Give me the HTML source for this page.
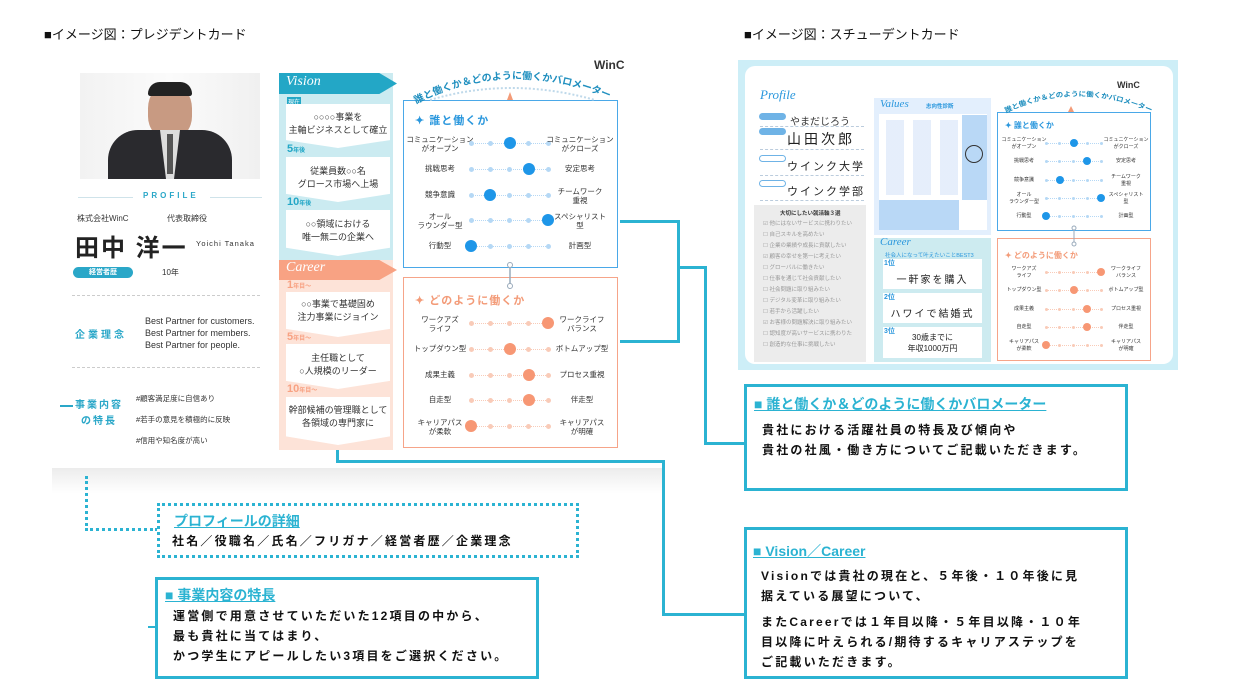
<!DOCTYPE html>
<html><head><meta charset="utf-8">
<style>
*{margin:0;padding:0;box-sizing:border-box}
body{width:1260px;height:700px;background:#fff;position:relative;overflow:hidden;font-family:"Liberation Sans","Noto Sans CJK JP",sans-serif;color:#222}
.a{position:absolute}
.t{font-size:13px;color:#111}
.ln{position:absolute;background:#2bb3d2}
.cb{position:absolute;border:3px solid #2bb3d2;background:#fff}
.ch{font-weight:bold;color:#2bb3d2;text-decoration:underline;font-size:14px}
.cbody{font-weight:bold;font-size:12px;letter-spacing:2.2px;line-height:20px;color:#111}
.chev{position:absolute;background:#fff;clip-path:polygon(0 0,100% 0,100% 82%,50% 100%,0 82%);text-align:center;font-size:9px;line-height:13px;color:#333;white-space:nowrap}
.lbl{position:absolute;font-size:7.5px;line-height:9px;text-align:center;color:#333}
.d{position:absolute;border-radius:50%}
</style></head><body>

<div class="a t" style="left:44px;top:24px;">■イメージ図：プレジデントカード</div>
<div class="a t" style="left:744px;top:24px;">■イメージ図：スチューデントカード</div>

<div class="a" style="left:52px;top:468px;width:610px;height:26px;background:linear-gradient(#ececec,#fafafa 70%,#fff)"></div>

<!-- photo -->
<div class="a" style="left:80px;top:73px;width:180px;height:106px;background:linear-gradient(90deg,#f2f2f2,#fbfbfb 50%,#f0f0f0)"></div>
<div class="a" style="left:148px;top:84px;width:44px;height:54px;background:#c89a82;border-radius:45% 45% 40% 40%"></div>
<div class="a" style="left:148px;top:82px;width:44px;height:14px;background:#222;border-radius:20px 20px 4px 4px"></div>
<div class="a" style="left:108px;top:130px;width:124px;height:49px;background:#2a2a2e;border-radius:30px 30px 0 0"></div>
<div class="a" style="left:160px;top:130px;width:20px;height:49px;background:#ddd;clip-path:polygon(0 0,100% 0,70% 100%,30% 100%)"></div>
<div class="a" style="left:167px;top:134px;width:6px;height:40px;background:#555"></div>

<div class="a" style="left:78px;top:197px;width:55px;height:1px;background:#cfe3ea"></div>
<div class="a" style="left:210px;top:197px;width:52px;height:1px;background:#cfe3ea"></div>
<div class="a" style="left:143px;top:191px;font-size:8px;letter-spacing:3px;color:#2aa7c8;font-weight:bold">PROFILE</div>
<div class="a" style="left:77px;top:213px;font-size:8px;color:#333">株式会社WinC</div>
<div class="a" style="left:167px;top:213px;font-size:8px;color:#333">代表取締役</div>
<div class="a" style="left:75px;top:228px;font-size:24px;font-weight:bold;color:#222;letter-spacing:2px">田中 洋一</div>
<div class="a" style="left:196px;top:239px;font-size:7.5px;color:#333;letter-spacing:1px">Yoichi Tanaka</div>
<div class="a" style="left:73px;top:267px;width:60px;height:11px;background:#2aa7c8;border-radius:6px;color:#fff;font-size:7px;text-align:center;line-height:11px;font-weight:bold">経営者歴</div>
<div class="a" style="left:162px;top:267px;font-size:8px;color:#333">10年</div>
<div class="a" style="left:72px;top:295px;width:188px;border-top:1px dashed #ccc"></div>
<div class="a" style="left:75px;top:326px;font-size:10px;color:#2aa7c8;font-weight:bold;letter-spacing:3px">企業理念</div>
<div class="a" style="left:145px;top:315px;font-size:9px;line-height:12px;color:#333">Best Partner for customers.<br>Best Partner for members.<br>Best Partner for people.</div>
<div class="a" style="left:72px;top:367px;width:188px;border-top:1px dashed #ccc"></div>
<div class="a" style="left:60px;top:405px;width:13px;height:2px;background:#2aa7c8"></div>
<div class="a" style="left:75px;top:398px;font-size:10px;line-height:16px;color:#2aa7c8;font-weight:bold;letter-spacing:2px;text-align:center">事業内容<br>の特長</div>
<div class="a" style="left:136px;top:388px;font-size:7.5px;line-height:21px;color:#333">#顧客満足度に自信あり<br>#若手の意見を積極的に反映<br>#信用や知名度が高い</div>

<!-- Vision column -->
<div class="a" style="left:279px;top:73px;width:114px;height:187px;background:#cbebf1"></div>
<div class="a" style="left:279px;top:73px;width:118px;height:21px;background:#23a7c6;clip-path:polygon(0 0,85% 0,100% 50%,85% 100%,0 100%)"></div>
<div class="a" style="left:286px;top:74px;color:#fff;font-style:italic;font-size:14px;font-family:'Liberation Serif',serif">Vision</div>
<div class="a" style="left:287px;top:97px;font-size:6px;background:#23a7c6;color:#fff;padding:0 1px">現在</div>
<div class="chev" style="left:286px;top:104px;width:104px;height:44px;padding-top:7px">○○○○事業を<br>主軸ビジネスとして確立</div>
<div class="a" style="left:287px;top:143px;font-size:11px;font-weight:bold;color:#23a7c6">5<span style="font-size:6px">年後</span></div>
<div class="chev" style="left:286px;top:157px;width:104px;height:45px;padding-top:8px">従業員数○○名<br>グロース市場へ上場</div>
<div class="a" style="left:287px;top:196px;font-size:11px;font-weight:bold;color:#23a7c6">10<span style="font-size:6px">年後</span></div>
<div class="chev" style="left:286px;top:210px;width:104px;height:46px;padding-top:8px">○○領域における<br>唯一無二の企業へ</div>

<!-- Career column -->
<div class="a" style="left:279px;top:260px;width:114px;height:190px;background:#fde3d8"></div>
<div class="a" style="left:279px;top:260px;width:118px;height:20px;background:#f8a283;clip-path:polygon(0 0,85% 0,100% 50%,85% 100%,0 100%)"></div>
<div class="a" style="left:286px;top:260px;color:#fff;font-style:italic;font-size:14px;font-family:'Liberation Serif',serif">Career</div>
<div class="a" style="left:287px;top:279px;font-size:11px;font-weight:bold;color:#f8a283">1<span style="font-size:6px">年目〜</span></div>
<div class="chev" style="left:286px;top:292px;width:104px;height:45px;padding-top:6px">○○事業で基礎固め<br>注力事業にジョイン</div>
<div class="a" style="left:287px;top:331px;font-size:11px;font-weight:bold;color:#f8a283">5<span style="font-size:6px">年目〜</span></div>
<div class="chev" style="left:286px;top:344px;width:104px;height:45px;padding-top:8px">主任職として<br>○人規模のリーダー</div>
<div class="a" style="left:287px;top:383px;font-size:11px;font-weight:bold;color:#f8a283">10<span style="font-size:6px">年目〜</span></div>
<div class="chev" style="left:286px;top:397px;width:104px;height:48px;padding-top:7px">幹部候補の管理職として<br>各領域の専門家に</div>

<!-- blue box -->
<div class="a" style="left:403px;top:100px;width:215px;height:168px;border:1.5px solid #4aa8e8;background:#fff"></div>
<div class="a" style="left:415px;top:112px;font-size:11px;font-weight:bold;color:#2a97dd;letter-spacing:1px">✦ 誰と働くか</div>
<div class="a" style="left:403px;top:277px;width:215px;height:171px;border:1.5px solid #f6a489;background:#fff"></div>
<div class="a" style="left:415px;top:292px;font-size:11px;font-weight:bold;color:#f39b78;letter-spacing:1px">✦ どのように働くか</div>

<!-- student card -->
<div class="a" style="left:738px;top:60px;width:440px;height:310px;background:#cdeef7"></div>
<div class="a" style="left:745px;top:66px;width:428px;height:298px;background:#fff;border-radius:10px"></div>
<div class="a" style="left:760px;top:87px;font-size:13px;font-style:italic;color:#2a97dd;font-family:'Liberation Serif',serif">Profile</div>
<div class="a" style="left:759px;top:113px;width:27px;height:7px;background:#6fb3e6;border-radius:4px"></div>
<div class="a" style="left:790px;top:113px;font-size:10px;color:#333">やまだじろう</div>
<div class="a" style="left:759px;top:128px;width:27px;height:7px;background:#6fb3e6;border-radius:4px"></div>
<div class="a" style="left:787px;top:129px;font-size:14px;color:#222;letter-spacing:3px">山田次郎</div>
<div class="a" style="left:759px;top:155px;width:27px;height:7px;border:1px solid #6fb3e6;border-radius:4px"></div>
<div class="a" style="left:787px;top:158px;font-size:11px;color:#222;letter-spacing:2px">ウインク大学</div>
<div class="a" style="left:759px;top:180px;width:27px;height:7px;border:1px solid #6fb3e6;border-radius:4px"></div>
<div class="a" style="left:787px;top:183px;font-size:11px;color:#222;letter-spacing:2px">ウインク学部</div>
<div class="a" style="left:760px;top:126px;width:104px;border-top:1px dashed #bcd"></div>
<div class="a" style="left:760px;top:149px;width:104px;border-top:1px dashed #bcd"></div>
<div class="a" style="left:760px;top:175px;width:104px;border-top:1px dashed #bcd"></div>
<div class="a" style="left:760px;top:200px;width:104px;border-top:1px dashed #bcd"></div>
<div class="a" style="left:754px;top:205px;width:112px;height:157px;background:#ececec"></div>
<div class="a" style="left:780px;top:209px;font-size:5.5px;font-weight:bold;color:#333">大切にしたい就活軸３選</div>
<div class="a" style="left:763px;top:219px;font-size:5.5px;line-height:11px;color:#999">☑ 他にはないサービスに携わりたい<br>☐ 自己スキルを高めたい<br>☐ 企業の業績や成長に貢献したい<br>☑ 顧客の幸せを第一に考えたい<br>☐ グローバルに働きたい<br>☐ 仕事を通じて社会貢献したい<br>☐ 社会問題に取り組みたい<br>☐ デジタル変革に取り組みたい<br>☐ 若手から活躍したい<br>☑ お客様の問題解決に取り組みたい<br>☐ 認知度が高いサービスに携わりた<br>☐ 創造的な仕事に挑戦したい</div>
<div class="a" style="left:874px;top:98px;width:117px;height:137px;background:#e3effd"></div>
<div class="a" style="left:880px;top:98px;font-size:11px;font-style:italic;color:#2a97dd;font-family:'Liberation Serif',serif">Values</div>
<div class="a" style="left:926px;top:102px;font-size:5.5px;font-weight:bold;color:#2a97dd">志向性診断</div>
<div class="a" style="left:879px;top:114px;width:108px;height:116px;background:#fff"></div>
<div class="a" style="left:962px;top:115px;width:25px;height:85px;background:#b9d8f6"></div>
<div class="a" style="left:879px;top:200px;width:80px;height:30px;background:#b9d8f6"></div>
<div class="a" style="left:965px;top:145px;width:18px;height:18px;border:1.5px solid #333;border-radius:50%"></div>
<div class="a" style="left:882px;top:120px;width:78px;height:75px;background:repeating-linear-gradient(90deg,#fff 0 4px,#dfeafa 4px 22px,#fff 22px 27px);opacity:.8"></div>
<div class="a" style="left:874px;top:238px;width:117px;height:124px;background:#cdebf0"></div>
<div class="a" style="left:880px;top:236px;font-size:11px;font-style:italic;color:#2a97dd;font-family:'Liberation Serif',serif">Career</div>
<div class="a" style="left:885px;top:251px;font-size:5.5px;color:#2a97dd">社会人になって叶えたいことBEST3</div>
<div class="a" style="left:883px;top:259px;width:99px;height:30px;background:#fff;font-size:10px;text-align:center;padding-top:12px;letter-spacing:2px">一軒家を購入</div>
<div class="a" style="left:883px;top:293px;width:99px;height:30px;background:#fff;font-size:10px;text-align:center;padding-top:12px;letter-spacing:2px">ハワイで結婚式</div>
<div class="a" style="left:883px;top:327px;width:99px;height:31px;background:#fff;font-size:8px;line-height:11px;text-align:center;padding-top:5px">30歳までに<br>年収1000万円</div>
<div class="a" style="left:884px;top:258px;font-size:7px;font-weight:bold;color:#2a97dd">1位</div>
<div class="a" style="left:884px;top:292px;font-size:7px;font-weight:bold;color:#2a97dd">2位</div>
<div class="a" style="left:884px;top:326px;font-size:7px;font-weight:bold;color:#2a97dd">3位</div>
<div class="a" style="left:997px;top:112px;width:154px;height:119px;border:1.2px solid #4aa8e8"></div>
<div class="a" style="left:1005px;top:120px;font-size:8px;font-weight:bold;color:#2a97dd">✦ 誰と働くか</div>
<div class="a" style="left:997px;top:238px;width:154px;height:123px;border:1.2px solid #f6a489"></div>
<div class="a" style="left:1005px;top:250px;font-size:8px;font-weight:bold;color:#f39b78">✦ どのように働くか</div>

<!-- titles svg -->
<svg class="a" style="left:0;top:0" width="1260" height="700">
<defs><path id="arc1" d="M416 104 Q510 56 612 100"/><path id="arc2" d="M1006 113 Q1075 80 1150 112"/></defs>
<text font-size="10" font-weight="bold" fill="#1f8fbf"><textPath href="#arc1" textLength="200" lengthAdjust="spacingAndGlyphs">誰と働くか＆どのように働くかバロメーター</textPath></text>
<path d="M430 100 Q510 76 595 100" fill="none" stroke="#bfd9ea" stroke-width="2" stroke-dasharray="2 2"/>
<polygon points="507,100 513,100 510,92" fill="#f39b78"/>
<text font-size="7" font-weight="bold" fill="#1f8fbf"><textPath href="#arc2" textLength="150" lengthAdjust="spacingAndGlyphs">誰と働くか＆どのように働くかバロメーター</textPath></text>
<polygon points="1068,112 1074,112 1071,106" fill="#f39b78"/>
<line x1="510" y1="265" x2="510" y2="286" stroke="#9ab" stroke-width="1.5"/>
<circle cx="510" cy="265" r="2.5" fill="#fff" stroke="#9ab"/><circle cx="510" cy="286" r="2.5" fill="#fff" stroke="#9ab"/>
<line x1="1074" y1="228" x2="1074" y2="244" stroke="#9ab"/>
<circle cx="1074" cy="228" r="2" fill="#fff" stroke="#9ab"/><circle cx="1074" cy="244" r="2" fill="#fff" stroke="#9ab"/>
</svg>
<div class="a" style="left:594px;top:58px;font-size:12px;font-weight:bold;color:#333">WinC</div>
<div class="a" style="left:1117px;top:80px;font-size:9px;font-weight:bold;color:#333">WinC</div>

<div id="bar"></div>

<!-- connectors -->
<div class="ln" style="left:620px;top:220px;width:59px;height:3px"></div>
<div class="ln" style="left:677px;top:220px;width:3px;height:123px"></div>
<div class="ln" style="left:620px;top:340px;width:59px;height:3px"></div>
<div class="ln" style="left:678px;top:266px;width:28px;height:3px"></div>
<div class="ln" style="left:704px;top:266px;width:3px;height:179px"></div>
<div class="ln" style="left:704px;top:442px;width:42px;height:3px"></div>
<div class="ln" style="left:336px;top:450px;width:3px;height:13px"></div>
<div class="ln" style="left:336px;top:460px;width:329px;height:3px"></div>
<div class="ln" style="left:662px;top:460px;width:3px;height:156px"></div>
<div class="ln" style="left:662px;top:613px;width:84px;height:3px"></div>
<div class="a" style="left:85px;top:476px;width:0;height:55px;border-left:3px dotted #2bb3d2"></div>
<div class="a" style="left:85px;top:528px;width:73px;height:0;border-top:3px dotted #2bb3d2"></div>
<div class="ln" style="left:148px;top:626px;width:9px;height:2px"></div>

<!-- callouts -->
<div class="a" style="left:157px;top:503px;width:422px;height:55px;border:3px dotted #2bb3d2;background:#fff"></div>
<div class="a ch" style="left:174px;top:511px">プロフィールの詳細</div>
<div class="a cbody" style="left:172px;top:531px">社名／役職名／氏名／フリガナ／経営者歴／企業理念</div>

<div class="cb" style="left:155px;top:577px;width:384px;height:102px"></div>
<div class="a ch" style="left:165px;top:585px">■ 事業内容の特長</div>
<div class="a cbody" style="left:173px;top:606px">運営側で用意させていただいた12項目の中から、<br>最も貴社に当てはまり、<br>かつ学生にアピールしたい3項目をご選択ください。</div>

<div class="cb" style="left:744px;top:384px;width:384px;height:107px"></div>
<div class="a ch" style="left:754px;top:394px">■ 誰と働くか＆どのように働くかバロメーター</div>
<div class="a cbody" style="left:762px;top:420px">貴社における活躍社員の特長及び傾向や<br>貴社の社風・働き方についてご記載いただきます。</div>

<div class="cb" style="left:744px;top:527px;width:384px;height:152px"></div>
<div class="a ch" style="left:753px;top:541px">■ Vision／Career</div>
<div class="a cbody" style="left:761px;top:566px">Visionでは貴社の現在と、５年後・１０年後に見<br>据えている展望について、</div>
<div class="a cbody" style="left:761px;top:612px">またCareerでは１年目以降・５年目以降・１０年<br>目以降に叶えられる/期待するキャリアステップを<br>ご記載いただきます。</div>

<script>
function bars(cfg){
 var h='';
 cfg.rows.forEach(function(r,i){
  var y=cfg.ys[i];
  h+='<div class="a" style="left:'+cfg.x0+'px;top:'+y+'px;width:'+(cfg.step*4)+'px;border-top:1px dotted '+cfg.lc+'"></div>';
  for(var k=0;k<5;k++){
   var big=k==r[2];var s=big?cfg.big:cfg.sm;
   h+='<div class="d" style="left:'+(cfg.x0+k*cfg.step-s/2)+'px;top:'+(y-s/2)+'px;width:'+s+'px;height:'+s+'px;background:'+(big?cfg.c:cfg.lc)+'"></div>';
  }
  h+='<div class="lbl" style="font-size:'+cfg.fs+'px;line-height:'+(cfg.fs+2)+'px;left:'+(cfg.lx-40)+'px;width:80px;top:'+(y-(r[0].indexOf('<br>')>0?cfg.fs+1:cfg.fs/2+1))+'px">'+r[0]+'</div>';
  h+='<div class="lbl" style="font-size:'+cfg.fs+'px;line-height:'+(cfg.fs+2)+'px;left:'+(cfg.rx-40)+'px;width:80px;top:'+(y-(r[1].indexOf('<br>')>0?cfg.fs+1:cfg.fs/2+1))+'px">'+r[1]+'</div>';
 });
 return h;
}
var blue=[['コミュニケーション<br>がオープン','コミュニケーション<br>がクローズ',2],['挑戦思考','安定思考',3],['競争意識','チームワーク<br>重視',1],['オール<br>ラウンダー型','スペシャリスト<br>型',4],['行動型','計画型',0]];
var org=[['ワークアズ<br>ライフ','ワークライフ<br>バランス',4],['トップダウン型','ボトムアップ型',2],['成果主義','プロセス重視',3],['自走型','伴走型',3],['キャリアパス<br>が柔軟','キャリアパス<br>が明確',0]];
var h='';
h+=bars({rows:blue,ys:[143,169,195,220,246],x0:471,step:19.3,big:12,sm:5,c:'#1e96e8',lc:'#b5d8f5',lx:440,rx:580,fs:7.5});
h+=bars({rows:org,ys:[323,349,375,400,426],x0:471,step:19.3,big:12,sm:5,c:'#f79774',lc:'#f9cbb8',lx:440,rx:582,fs:7.5});
h+=bars({rows:blue,ys:[143,161,180,198,216],x0:1046,step:13.8,big:8,sm:3,c:'#1e96e8',lc:'#b5d8f5',lx:1024,rx:1126,fs:5});
h+=bars({rows:org,ys:[272,290,309,327,345],x0:1046,step:13.8,big:8,sm:3,c:'#f79774',lc:'#f9cbb8',lx:1024,rx:1126,fs:5});
document.getElementById('bar').innerHTML=h;
</script>
</body></html>
